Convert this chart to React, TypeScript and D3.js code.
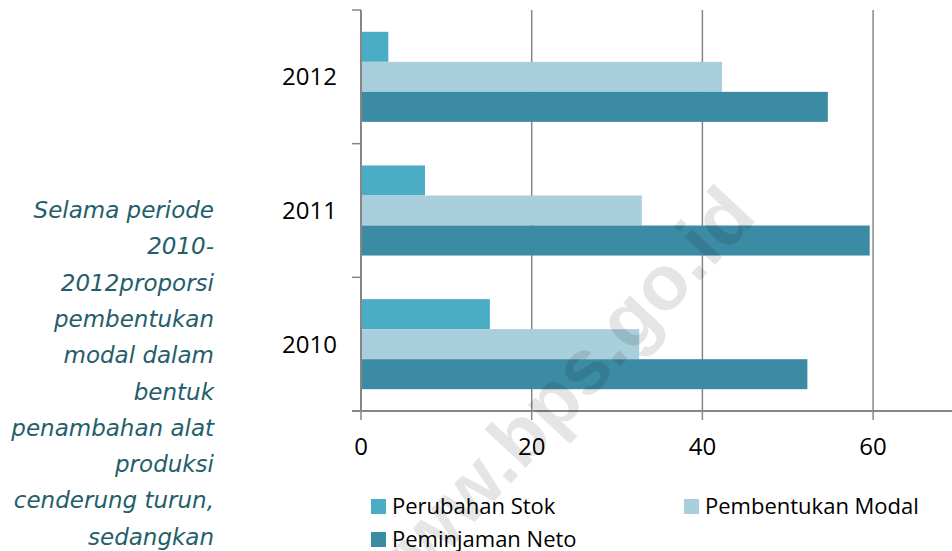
import React from 'react';
import * as d3 from 'd3';

// data
const years = ['2012', '2011', '2010'];
const perubahanStok = [3.2, 7.5, 15.1];
const pembentukanModal = [42.3, 32.9, 32.6];
const peminjamanNeto = [54.7, 59.6, 52.3];
const xTicks = [0, 20, 40, 60];

const seriesNames = ['Perubahan Stok', 'Pembentukan Modal', 'Peminjaman Neto'];
const seriesColors = ['#4BACC6', '#A9CEDC', '#3C8BA4'];
const seriesValues = [perubahanStok, pembentukanModal, peminjamanNeto];

const noteLines = [
  'Selama periode',
  '2010-',
  '2012proporsi',
  'pembentukan',
  'modal dalam',
  'bentuk',
  'penambahan alat',
  'produksi',
  'cenderung turun,',
  'sedangkan',
];

const W = 952;
const H = 551;
const plot = { left: 361, top: 10, bottom: 411 };

const App = () => {
  // axis runs to 80, which falls outside the visible area
  const x = d3.scaleLinear().domain([0, 80]).range([plot.left, plot.left + 4 * 170.7]);
  const y = d3.scaleBand().domain(years).range([plot.top, plot.bottom]);
  const bandH = y.bandwidth();
  const gap = 21.8;
  const sub = d3
    .scaleBand()
    .domain(seriesNames)
    .range([gap, bandH - gap]);

  const gridColor = '#878787';
  const labelFont = '"Open Sans", sans-serif';

  return (
    <svg
      width={W}
      height={H}
      style={{ position: 'absolute', left: 0, top: 0, background: '#fff' }}
    >
      {/* gridlines */}
      {xTicks.slice(1).map((t) => (
        <line
          key={'g' + t}
          x1={x(t)}
          x2={x(t)}
          y1={plot.top}
          y2={plot.bottom + 9}
          stroke={gridColor}
          strokeWidth={1.5}
        />
      ))}

      {/* bars */}
      {years.map((yr, i) => (
        <g key={yr} transform={`translate(0,${y(yr)})`}>
          {seriesNames.map((s, k) => (
            <rect
              key={s}
              x={x(0)}
              y={sub(s)}
              width={x(seriesValues[k][i]) - x(0)}
              height={sub.bandwidth()}
              fill={seriesColors[k]}
            />
          ))}
        </g>
      ))}

      {/* y axis */}
      <line x1={x(0)} x2={x(0)} y1={plot.top} y2={plot.bottom} stroke="#868686" strokeWidth={2} />
      {[...years.map((yr) => y(yr)), plot.bottom].map((v, i) => (
        <line key={'yt' + i} x1={x(0) - 9} x2={x(0)} y1={v} y2={v} stroke="#868686" strokeWidth={1.5} />
      ))}
      {years.map((yr) => (
        <text
          key={'yl' + yr}
          x={x(0) - 24}
          y={y(yr) + bandH / 2 + 8.5}
          textAnchor="end"
          fontFamily={labelFont}
          fontSize={24}
          fill="#000"
        >
          {yr}
        </text>
      ))}

      {/* x axis */}
      <line x1={x(0) - 9} x2={W} y1={plot.bottom} y2={plot.bottom} stroke="#868686" strokeWidth={2} />
      <line x1={x(0)} x2={x(0)} y1={plot.bottom} y2={plot.bottom + 9} stroke="#868686" strokeWidth={1.5} />
      {xTicks.map((t) => (
        <text
          key={'xl' + t}
          x={x(t)}
          y={455}
          textAnchor="middle"
          fontFamily={labelFont}
          fontSize={24}
          fill="#000"
        >
          {t}
        </text>
      ))}

      {/* legend */}
      {seriesNames.map((s, k) => {
        const lx = k === 1 ? 684 : 371;
        const ly = k === 2 ? 532 : 499;
        return (
          <g key={'lg' + s} transform={`translate(${lx},${ly})`}>
            <rect width={15} height={15} fill={seriesColors[k]} />
            <text x={21} y={14.5} fontFamily={labelFont} fontSize={22} fill="#000">
              {s}
            </text>
          </g>
        );
      })}

      {/* side note */}
      {noteLines.map((line, i) => (
        <text
          key={'n' + i}
          x={214}
          y={218 + i * 36.3}
          textAnchor="end"
          fontFamily='"DejaVu Sans", sans-serif'
          fontStyle="italic"
          fontSize={23}
          fill="#245E6A"
        >
          {line}
        </text>
      ))}

      {/* watermark */}
      <text
        transform="translate(552,400) rotate(-47)"
        textAnchor="middle"
        dominantBaseline="central"
        fontFamily='"Liberation Sans", Arial, sans-serif'
        fontWeight="bold"
        fontSize={78}
        fill="#000"
        fillOpacity={0.1}
      >
        www.bps.go.id
      </text>
    </svg>
  );
};

export default App;
